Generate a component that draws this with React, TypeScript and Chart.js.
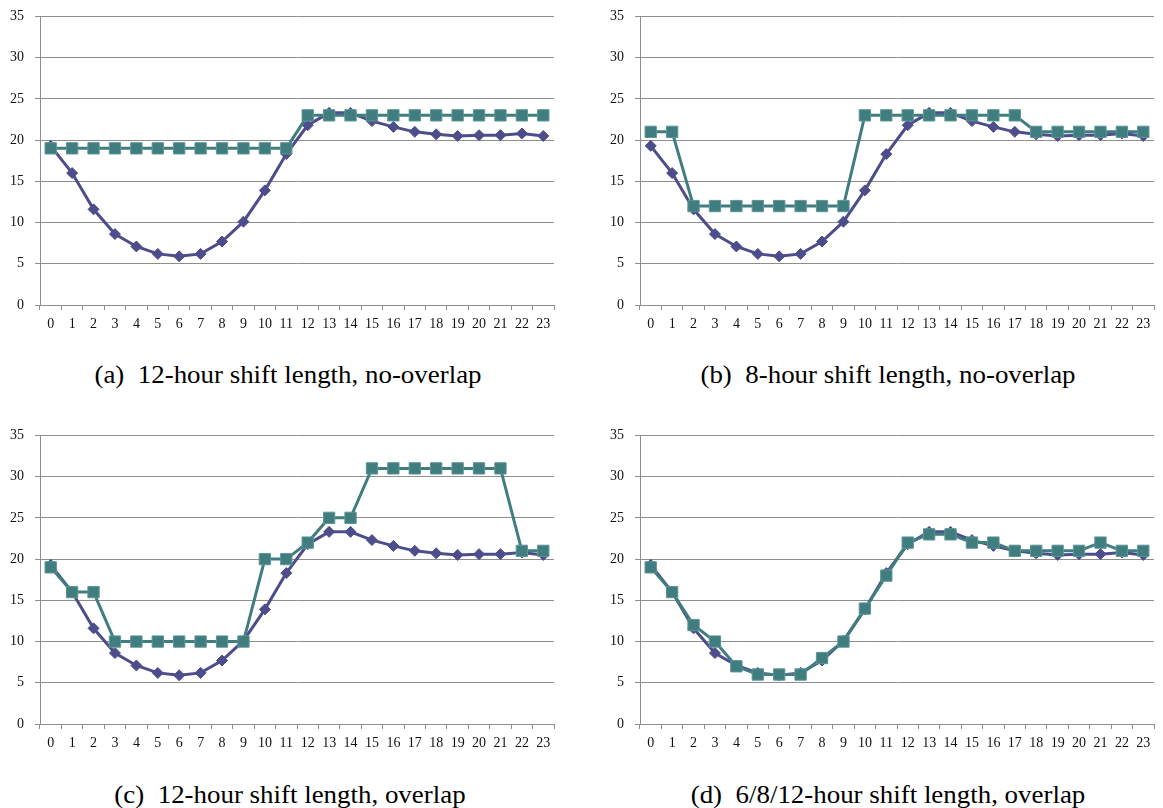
import React, { useEffect, useRef } from 'react';
import { Chart, registerables } from 'chart.js';

Chart.register(...registerables);

const hours = ['0','1','2','3','4','5','6','7','8','9','10','11','12','13','14','15','16','17','18','19','20','21','22','23'];

const demand = [19.3, 16.0, 11.6, 8.6, 7.1, 6.2, 5.9, 6.2, 7.7, 10.1, 13.9, 18.3, 21.8, 23.3, 23.3, 22.3, 21.6, 21.0, 20.7, 20.5, 20.6, 20.6, 20.8, 20.5];

const supplyA = [19, 19, 19, 19, 19, 19, 19, 19, 19, 19, 19, 19, 23, 23, 23, 23, 23, 23, 23, 23, 23, 23, 23, 23];
const supplyB = [21, 21, 12, 12, 12, 12, 12, 12, 12, 12, 23, 23, 23, 23, 23, 23, 23, 23, 21, 21, 21, 21, 21, 21];
const supplyC = [19, 16, 16, 10, 10, 10, 10, 10, 10, 10, 20, 20, 22, 25, 25, 31, 31, 31, 31, 31, 31, 31, 21, 21];
const supplyD = [19, 16, 12, 10, 7, 6, 6, 6, 8, 10, 14, 18, 22, 23, 23, 22, 22, 21, 21, 21, 21, 22, 21, 21];

const captions = [
  '(a)  12-hour shift length, no-overlap',
  '(b)  8-hour shift length, no-overlap',
  '(c)  12-hour shift length, overlap',
  '(d)  6/8/12-hour shift length, overlap',
];

const PURPLE = '#4e4d8c';
const TEAL = '#3f7d7f';
const GRID = '#8e8e8e';
const FONT = '"Liberation Serif", Tinos, "Times New Roman", Times, serif';

const panels = [
  { supply: supplyA, left: 0, top: -3, padRight: 5, capX: 288, capY: 360 },
  { supply: supplyB, left: 600, top: -3, padRight: 6, capX: 888, capY: 360 },
  { supply: supplyC, left: 0, top: 416, padRight: 5, capX: 290, capY: 780 },
  { supply: supplyD, left: 600, top: 416, padRight: 6, capX: 888, capY: 780 },
];

function makeChart(canvas: HTMLCanvasElement, supply: number[], padRight: number) {
  return new Chart(canvas, {
    type: 'line',
    data: {
      labels: hours,
      datasets: [
        {
          data: supply,
          borderColor: TEAL,
          backgroundColor: TEAL,
          borderWidth: 3,
          pointStyle: 'rect',
          pointRadius: 8,
          pointBorderWidth: 1,
          pointBorderColor: '#5f9597',
          pointBackgroundColor: TEAL,
          tension: 0,
          order: 0,
        },
        {
          data: demand,
          borderColor: PURPLE,
          backgroundColor: PURPLE,
          borderWidth: 3,
          pointStyle: 'rectRot',
          pointRadius: 5.5,
          pointBorderWidth: 1,
          pointBorderColor: PURPLE,
          pointBackgroundColor: PURPLE,
          tension: 0,
          order: 1,
        },
      ],
    },
    options: {
      responsive: false,
      animation: false,
      maintainAspectRatio: false,
      layout: { padding: { top: 12, right: padRight, left: 0, bottom: 0 } },
      plugins: { legend: { display: false }, tooltip: { enabled: false }, title: { display: false } },
      scales: {
        x: {
          type: 'category',
          offset: true,
          grid: { offset: true, drawOnChartArea: false, drawTicks: true, tickLength: 5, color: GRID },
          border: { display: true, color: GRID, width: 1 },
          ticks: { font: { family: FONT, size: 14 }, color: '#111', padding: 6, maxRotation: 0, autoSkip: false },
          afterFit: (axis: any) => { axis.height = 32; },
        },
        y: {
          min: 0,
          max: 35,
          ticks: { stepSize: 5, font: { family: FONT, size: 14 }, color: '#111', padding: 11 },
          grid: { color: GRID, lineWidth: 1, drawTicks: true, tickLength: 5 },
          border: { display: true, color: GRID, width: 1 },
          afterFit: (axis: any) => { axis.width = 40; },
        },
      },
    },
  });
}

export default function App() {
  const refs = [useRef<HTMLCanvasElement>(null), useRef<HTMLCanvasElement>(null), useRef<HTMLCanvasElement>(null), useRef<HTMLCanvasElement>(null)];

  useEffect(() => {
    const charts = panels.map((p, i) => makeChart(refs[i].current as HTMLCanvasElement, p.supply, p.padRight));
    return () => charts.forEach((c) => c.destroy());
  }, []);

  return (
    <div style={{ position: 'fixed', left: 0, top: 0, width: 1163, height: 808, background: '#fff', overflow: 'hidden' }}>
      {panels.map((p, i) => (
        <div key={'c' + i} style={{ position: 'absolute', left: p.left, top: p.top, width: 563, height: 340 }}>
          <canvas ref={refs[i]} width={563} height={340} style={{ width: 563, height: 340 }} />
        </div>
      ))}
      {panels.map((p, i) => (
        <div
          key={'t' + i}
          style={{
            position: 'absolute',
            left: p.capX - 250,
            top: p.capY,
            width: 500,
            textAlign: 'center',
            fontFamily: FONT,
            fontSize: 26,
            lineHeight: '30px',
            whiteSpace: 'pre',
            color: '#000',
            transform: 'scaleX(1.035)',
            transformOrigin: 'center',
          }}
        >
          {captions[i]}
        </div>
      ))}
    </div>
  );
}
